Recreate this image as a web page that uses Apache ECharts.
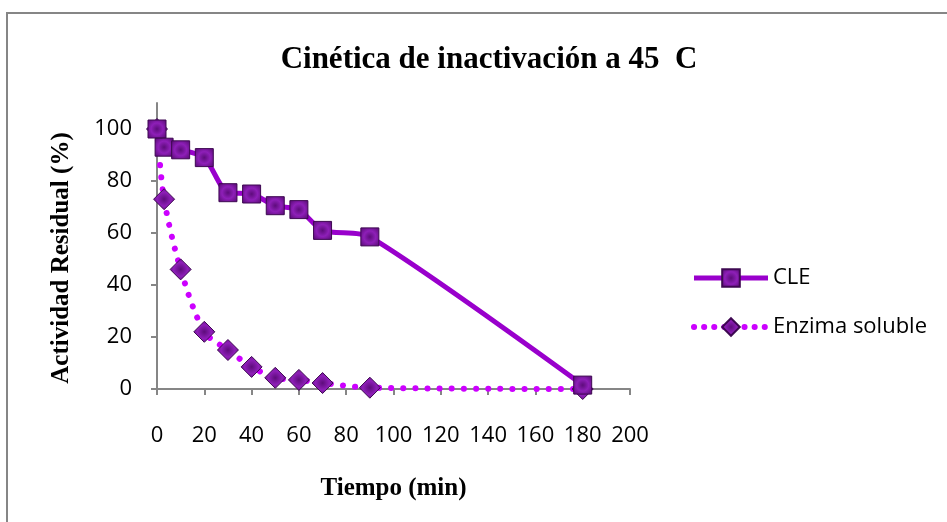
<!DOCTYPE html>
<html>
<head>
<meta charset="utf-8">
<script src="https://cdn.jsdelivr.net/npm/echarts@6/dist/echarts.min.js"></script>
<style>
html,body{margin:0;padding:0;background:#fff;}
#c{width:947px;height:522px;}
</style>
</head>
<body>
<div id="c"></div>
<script>
const title = 'Cinética de inactivación a 45  C';
const xName = 'Tiempo (min)';
const yName = 'Actividad Residual (%)';
const seriesNames = ['CLE', 'Enzima soluble'];
const timeMin = [0, 3, 10, 20, 30, 40, 50, 60, 70, 90, 180];
const cleValues = [100, 93, 92, 89, 75.5, 75, 70.5, 69, 61, 58.5, 1.5];
const enzimaValues = [100, 73, 46, 22, 15, 8.5, 4.3, 3.5, 2.3, 0.5, 0];
const yTicks = [0, 20, 40, 60, 80, 100];

const chart = echarts.init(document.getElementById('c'), null, {renderer: 'canvas'});
const sans = '"Open Sans", Lato, sans-serif';
const serif = '"Liberation Serif", "DejaVu Serif", serif';

function pairs(xs, ys) { return xs.map((x, i) => [x, ys[i]]); }

const markerStyle = {
  color: new echarts.graphic.RadialGradient(0.5, 0.5, 0.7, [
    {offset: 0, color: '#5e0c7c'},
    {offset: 0.45, color: '#8e1fb8'},
    {offset: 1, color: '#52096c'}
  ]),
  borderColor: '#3e0852',
  borderWidth: 1
};
const cleLine = {color: '#9900cc', width: 5};
const enzLine = {color: '#cc00ff', width: 6, type: [0.1, 12], cap: 'round'};

chart.setOption({
  animation: false,
  backgroundColor: '#fff',
  graphic: [{
    type: 'rect',
    shape: {x: 7, y: 13, width: 1000, height: 600},
    style: {fill: 'none', stroke: '#868686', lineWidth: 2},
    silent: true
  }, {
    type: 'text',
    x: 62, y: 258, rotation: Math.PI / 2,
    style: {
      text: yName, textAlign: 'center', textVerticalAlign: 'middle',
      fontFamily: serif, fontWeight: 'bold', fontSize: 25, fill: '#000'
    },
    silent: true
  }],
  title: {
    text: title,
    left: 484, top: 39, textAlign: 'center',
    textStyle: {fontFamily: serif, fontWeight: 'bold', fontSize: 31, color: '#000'}
  },
  legend: {
    orient: 'vertical',
    left: 691, top: 266, padding: 0,
    itemWidth: 74, itemHeight: 22, itemGap: 25,
    textStyle: {fontFamily: sans, fontSize: 22, lineHeight: 24, color: '#000', padding: 0},
    data: [
      {name: seriesNames[0], lineStyle: cleLine},
      {name: seriesNames[1], lineStyle: {color: '#cc00ff', width: 6, type: [0.1, 10], cap: 'round'}}
    ]
  },
  grid: {left: 157, right: 317, top: 103, bottom: 133, containLabel: false},
  xAxis: {
    type: 'value', min: 0, max: 200, interval: 20,
    name: xName, nameLocation: 'middle', nameGap: 87,
    nameTextStyle: {fontFamily: serif, fontWeight: 'bold', fontSize: 25, color: '#000'},
    axisLine: {show: true, onZero: false, lineStyle: {color: '#868686', width: 2}},
    axisTick: {show: true, length: 6, lineStyle: {color: '#868686', width: 2}},
    axisLabel: {margin: 36, fontFamily: sans, fontSize: 22, color: '#000'},
    splitLine: {show: false}
  },
  yAxis: {
    type: 'value', min: 0, max: 110,
    axisLine: {show: true, lineStyle: {color: '#868686', width: 2}},
    axisTick: {show: true, length: 6, customValues: yTicks, lineStyle: {color: '#868686', width: 2}},
    axisLabel: {margin: 25, customValues: yTicks, fontFamily: sans, fontSize: 22, color: '#000'},
    splitLine: {show: false}
  },
  series: [{
    name: seriesNames[0],
    type: 'line',
    data: pairs(timeMin, cleValues),
    smooth: 0.25,
    symbol: 'rect', symbolSize: 18,
    lineStyle: cleLine,
    itemStyle: markerStyle,
    z: 3
  }, {
    name: seriesNames[1],
    type: 'line',
    data: pairs(timeMin, enzimaValues),
    smooth: 0.3,
    symbol: 'diamond', symbolSize: 21,
    lineStyle: enzLine,
    itemStyle: markerStyle,
    z: 2
  }]
});
</script>
</body>
</html>
